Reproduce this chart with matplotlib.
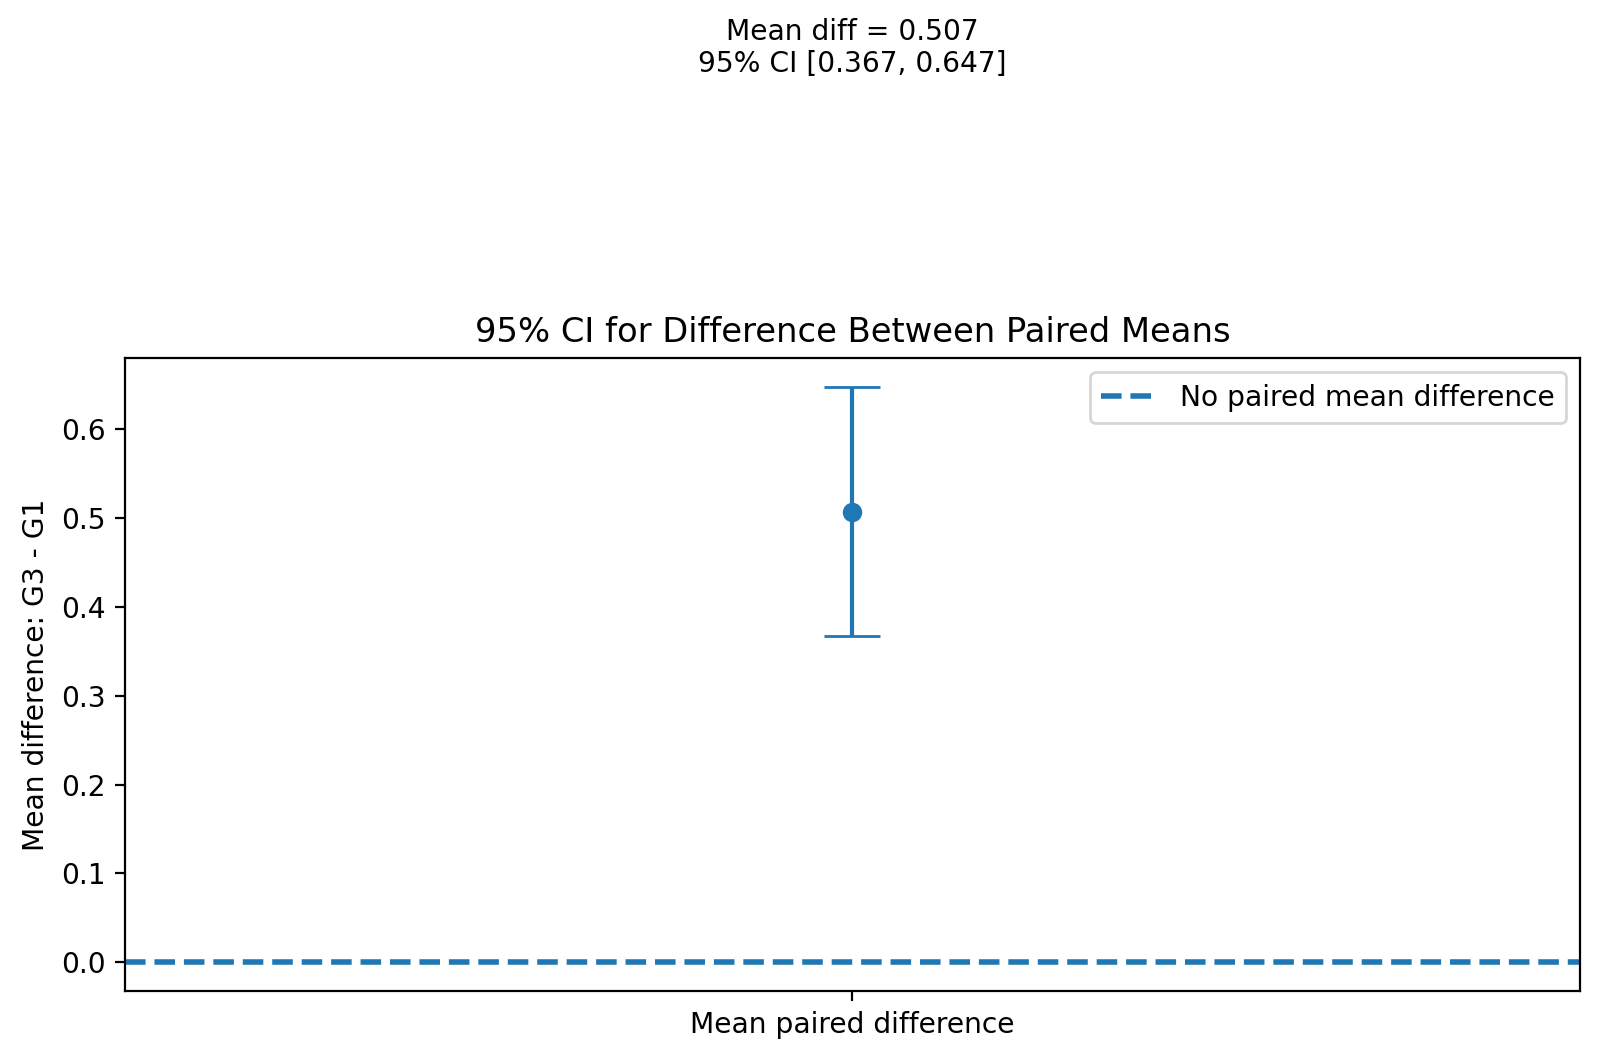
import matplotlib
matplotlib.use("Agg")
import matplotlib.pyplot as plt

# values
mean_diff = 0.507
ci_low = 0.367
ci_high = 0.647
group_a = "G3"
group_b = "G1"
x_label = "Mean paired difference"

plt.rcParams['font.size'] = 10.13

fig, ax = plt.subplots(figsize=(8, 5.3), dpi=200)
fig.subplots_adjust(left=0.078, right=0.9875, top=0.662, bottom=0.065)

err = [[mean_diff - ci_low], [ci_high - mean_diff]]
ax.errorbar([0], [mean_diff], yerr=err, fmt='o', capsize=10, color='#1f77b4')
ax.axhline(0, linestyle='--', linewidth=2, color='#1f77b4', label="No paired mean difference")

ax.set_xticks([0])
ax.set_xticklabels([x_label])
ax.set_ylabel(f"Mean difference: {group_a} - {group_b}")
ax.set_title("95% CI for Difference Between Paired Means", fontsize=12.16)
ax.legend(loc='upper right')

fig.text(0.5325, 0.955, f"Mean diff = {mean_diff:.3f}\n95% CI [{ci_low:.3f}, {ci_high:.3f}]",
         ha='center', va='center')

fig.savefig("out.png")
